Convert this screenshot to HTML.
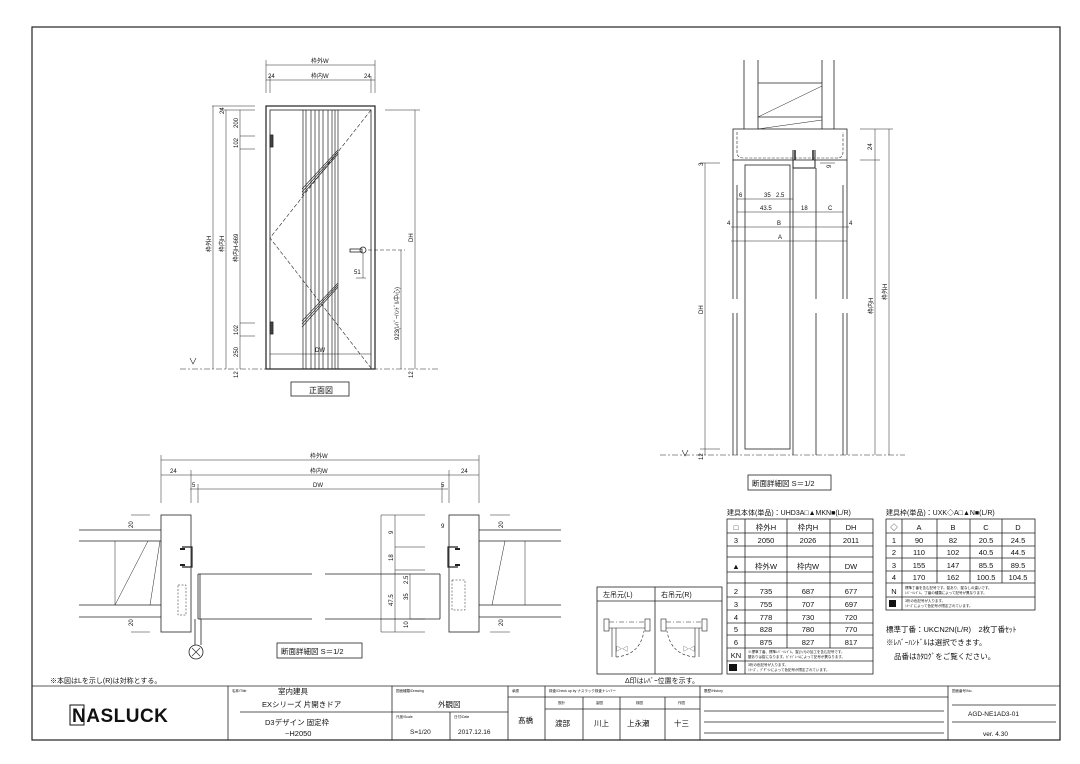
<!DOCTYPE html>
<html><head><meta charset="utf-8"><style>
html,body{margin:0;padding:0;background:#fff;}
svg{display:block;font-family:"Liberation Sans","Noto Sans CJK JP",sans-serif;}
text{fill:#111;}
</style></head><body>
<svg width="1080" height="764" viewBox="0 0 1080 764" xmlns="http://www.w3.org/2000/svg">
<rect width="1080" height="764" fill="#fff"/>
<g fill="none" stroke="#222" stroke-width="0.8">
<rect x="32" y="27" width="1028" height="713" stroke-width="1.2"/>
<line x1="32" y1="686" x2="1060" y2="686"/>
<line x1="228" y1="686" x2="228" y2="740"/><line x1="392" y1="686" x2="392" y2="740"/>
<line x1="508" y1="686" x2="508" y2="740"/><line x1="545" y1="686" x2="545" y2="740"/>
<line x1="700" y1="686" x2="700" y2="740"/><line x1="948" y1="686" x2="948" y2="740"/>
<line x1="240" y1="712" x2="392" y2="712"/><line x1="392" y1="712" x2="508" y2="712"/>
<line x1="450" y1="712" x2="450" y2="740"/>
<line x1="508" y1="697" x2="700" y2="697"/><line x1="545" y1="709" x2="700" y2="709"/>
<line x1="583" y1="697" x2="583" y2="740"/><line x1="620" y1="697" x2="620" y2="740"/><line x1="665" y1="697" x2="665" y2="740"/>
<line x1="700" y1="697" x2="948" y2="697"/>
<line x1="704" y1="711" x2="944" y2="711"/><line x1="704" y1="722" x2="944" y2="722"/><line x1="704" y1="733" x2="944" y2="733"/>
<line x1="952" y1="705" x2="1056" y2="705"/><line x1="952" y1="722" x2="1056" y2="722"/>

<rect x="266" y="106" width="109" height="263" stroke-width="1.2"/>
<rect x="270" y="110" width="101" height="259"/>
<g stroke-width="0.7">
<line x1="303" y1="110" x2="303" y2="369"/><line x1="306" y1="110" x2="306" y2="369"/>
<line x1="311" y1="110" x2="311" y2="369"/><line x1="315" y1="110" x2="315" y2="369"/>
<line x1="319" y1="110" x2="319" y2="369"/><line x1="323" y1="110" x2="323" y2="369"/>
<line x1="328" y1="110" x2="328" y2="369"/><line x1="332" y1="110" x2="332" y2="369"/>
<line x1="335" y1="110" x2="335" y2="369"/><line x1="338" y1="110" x2="338" y2="369"/>
</g>
<line x1="270" y1="354" x2="371" y2="354" stroke-width="0.6"/>
<polyline points="371,110 270,238 371,368" stroke-dasharray="4,2" stroke-width="0.6"/>
<g stroke-width="0.6">
<line x1="302" y1="195" x2="338" y2="154"/><line x1="302" y1="192" x2="338" y2="152"/><line x1="302" y1="189" x2="338" y2="150"/>
<line x1="302" y1="327" x2="338" y2="287"/><line x1="302" y1="324" x2="338" y2="285"/><line x1="302" y1="321" x2="338" y2="283"/>
</g>
<rect x="270" y="135" width="3" height="12" fill="#444"/><rect x="270" y="322" width="3" height="12" fill="#444"/>
<circle cx="363" cy="250" r="3"/><rect x="350" y="249" width="12" height="3"/>
<g stroke-width="0.5">
<line x1="266" y1="65" x2="375" y2="65"/><line x1="266" y1="80" x2="375" y2="80"/>
<line x1="266" y1="60" x2="266" y2="93"/><line x1="375" y1="60" x2="375" y2="93"/>
<line x1="270" y1="76" x2="270" y2="93"/><line x1="371" y1="76" x2="371" y2="93"/>
<line x1="212" y1="106" x2="255" y2="106"/><line x1="220" y1="110" x2="255" y2="110"/>
<line x1="213" y1="106" x2="213" y2="369"/><line x1="226" y1="110" x2="226" y2="369"/><line x1="240" y1="110" x2="240" y2="369"/>
<line x1="240" y1="136" x2="255" y2="136"/><line x1="240" y1="149" x2="255" y2="149"/>
<line x1="240" y1="323" x2="255" y2="323"/><line x1="240" y1="336" x2="255" y2="336"/>
<line x1="385" y1="110" x2="420" y2="110"/><line x1="415" y1="110" x2="415" y2="369"/>
<line x1="368" y1="250" x2="405" y2="250" stroke-dasharray="4,2"/><line x1="401" y1="250" x2="401" y2="369"/>
<line x1="363" y1="253" x2="363" y2="278"/><line x1="356" y1="278" x2="366" y2="278"/>
<line x1="180" y1="369" x2="440" y2="369" stroke-dasharray="6,2,2,2"/>
</g>
<path d="M190 358 l3 6 l3 -6" stroke-width="0.6"/>
<rect x="291" y="382" width="58" height="14"/>

<line x1="744" y1="60" x2="744" y2="129"/><line x1="758" y1="60" x2="758" y2="129"/>
<line x1="822" y1="60" x2="822" y2="129"/><line x1="834" y1="60" x2="834" y2="129"/>
<line x1="758" y1="83" x2="822" y2="83"/><line x1="758" y1="117" x2="822" y2="117"/>
<line x1="758" y1="117" x2="822" y2="86" stroke-width="0.5"/><line x1="758" y1="129" x2="822" y2="120" stroke-width="0.5"/>
<rect x="733" y="129" width="114" height="31"/>
<path d="M737 132 L737 152 Q737 158 743 158 L837 158 Q843 158 843 152 L843 132" stroke-dasharray="3,1.5" stroke-width="0.6"/>
<path d="M793 150 L793 168 L815 168 L815 150" stroke-width="1"/>
<path d="M795 150 v10 M813 150 v10" stroke-width="1.5"/>
<g>
<line x1="733" y1="160" x2="733" y2="299"/><line x1="733" y1="313" x2="733" y2="455"/>
<line x1="737" y1="185" x2="737" y2="299"/><line x1="737" y1="313" x2="737" y2="455"/>
<line x1="793" y1="168" x2="793" y2="455"/><line x1="816" y1="168" x2="816" y2="299"/><line x1="816" y1="313" x2="816" y2="455"/>
<line x1="843" y1="185" x2="843" y2="299"/><line x1="843" y1="313" x2="843" y2="455"/>
<line x1="847" y1="160" x2="847" y2="299"/><line x1="847" y1="313" x2="847" y2="455"/>
<rect x="745" y="165" width="45" height="284"/>
</g>
<g stroke-width="0.5">
<line x1="737" y1="199" x2="793" y2="199"/><line x1="737" y1="212" x2="843" y2="212"/>
<line x1="731" y1="227" x2="849" y2="227"/><line x1="731" y1="241" x2="847" y2="241"/>
<line x1="700" y1="163" x2="720" y2="163"/><line x1="700" y1="449" x2="720" y2="449"/>
<line x1="705" y1="163" x2="705" y2="455"/>
<line x1="860" y1="129" x2="893" y2="129"/><line x1="860" y1="160" x2="880" y2="160"/>
<line x1="875" y1="129" x2="875" y2="455"/><line x1="889" y1="129" x2="889" y2="455"/>
<line x1="660" y1="455" x2="905" y2="455" stroke-dasharray="6,2,2,2"/>
<line x1="820" y1="163" x2="835" y2="163"/>
</g>
<path d="M682 450 l3 6 l3 -6" stroke-width="0.6"/>
<rect x="748" y="475" width="83" height="15"/>

<g stroke-width="0.5">
<line x1="161" y1="460" x2="479" y2="460"/><line x1="161" y1="475" x2="479" y2="475"/>
<line x1="190" y1="489" x2="448" y2="489"/>
<line x1="161" y1="455" x2="161" y2="503"/><line x1="479" y1="455" x2="479" y2="503"/>
<line x1="191" y1="470" x2="191" y2="503"/><line x1="449" y1="470" x2="449" y2="503"/>
<line x1="198" y1="484" x2="198" y2="503"/><line x1="442" y1="484" x2="442" y2="503"/>
<line x1="131" y1="515" x2="150" y2="515"/><line x1="131" y1="632" x2="150" y2="632"/>
<line x1="490" y1="515" x2="510" y2="515"/><line x1="490" y1="632" x2="510" y2="632"/>
<line x1="381" y1="515" x2="381" y2="632"/><line x1="395" y1="515" x2="395" y2="632"/>
<line x1="381" y1="515" x2="425" y2="515"/><line x1="381" y1="632" x2="425" y2="632"/>
<line x1="395" y1="547" x2="425" y2="547"/><line x1="395" y1="570" x2="425" y2="570"/>
<line x1="410" y1="574" x2="410" y2="619"/><line x1="410" y1="619" x2="425" y2="619"/>
</g>
<rect x="161" y="515" width="30" height="117"/><rect x="449" y="515" width="30" height="117"/>
<g>
<line x1="79" y1="530" x2="161" y2="530"/><line x1="79" y1="541" x2="161" y2="541"/>
<line x1="79" y1="605" x2="161" y2="605"/><line x1="79" y1="617" x2="161" y2="617"/>
<line x1="479" y1="530" x2="561" y2="530"/><line x1="479" y1="541" x2="561" y2="541"/>
<line x1="479" y1="605" x2="561" y2="605"/><line x1="479" y1="617" x2="561" y2="617"/>
<line x1="115" y1="541" x2="115" y2="605" stroke-width="0.5"/><line x1="115" y1="605" x2="148" y2="541" stroke-width="0.5"/>
<line x1="525" y1="541" x2="525" y2="605" stroke-width="0.5"/><line x1="492" y1="605" x2="505" y2="541" stroke-width="0.5"/>
<line x1="160" y1="541" x2="150" y2="605" stroke-width="0.5"/>
<line x1="198" y1="574" x2="312" y2="574"/><line x1="198" y1="619" x2="312" y2="619"/>
<line x1="325" y1="574" x2="440" y2="574"/><line x1="325" y1="619" x2="440" y2="619"/>
<line x1="198" y1="574" x2="198" y2="619"/><line x1="200" y1="574" x2="200" y2="619"/>
<line x1="440" y1="574" x2="440" y2="619"/>
</g>
<path d="M182 547 h10 v20 h-10" stroke-width="1.2"/><path d="M180 549 h5 M180 565 h5" stroke-width="2"/>
<path d="M458 547 h-10 v20 h10" stroke-width="1.2"/><path d="M460 549 h-5 M460 565 h-5" stroke-width="2"/>
<rect x="178" y="585" width="8" height="30" stroke-dasharray="2,1.5" stroke-width="0.5"/>
<rect x="452" y="580" width="13" height="30" stroke-dasharray="2,1.5" stroke-width="0.5"/>
<line x1="195" y1="619" x2="195" y2="645"/><line x1="201" y1="619" x2="201" y2="645"/>
<circle cx="196" cy="652" r="7"/><path d="M192 648 l8 8 M200 648 l-8 8" stroke-width="0.6"/>
<rect x="277" y="643" width="85" height="15"/>

<rect x="727" y="519" width="146" height="155"/>
<line x1="745" y1="519" x2="745" y2="674"/>
<line x1="787" y1="519" x2="787" y2="648"/><line x1="830" y1="519" x2="830" y2="648"/>
<line x1="727" y1="533" x2="873" y2="533"/><line x1="727" y1="546" x2="873" y2="546"/>
<line x1="727" y1="557" x2="873" y2="557"/><line x1="727" y1="572" x2="873" y2="572"/>
<line x1="727" y1="583" x2="873" y2="583"/><line x1="727" y1="597" x2="873" y2="597"/>
<line x1="727" y1="610" x2="873" y2="610"/><line x1="727" y1="623" x2="873" y2="623"/>
<line x1="727" y1="635" x2="873" y2="635"/><line x1="727" y1="648" x2="873" y2="648"/>
<line x1="727" y1="661" x2="873" y2="661"/>
<rect x="886" y="519" width="149" height="91"/>
<line x1="902" y1="519" x2="902" y2="610"/>
<line x1="937" y1="519" x2="937" y2="583"/><line x1="970" y1="519" x2="970" y2="583"/><line x1="1002" y1="519" x2="1002" y2="583"/>
<line x1="886" y1="533" x2="1035" y2="533"/><line x1="886" y1="546" x2="1035" y2="546"/>
<line x1="886" y1="558" x2="1035" y2="558"/><line x1="886" y1="571" x2="1035" y2="571"/>
<line x1="886" y1="583" x2="1035" y2="583"/><line x1="886" y1="597" x2="1035" y2="597"/>

<rect x="597" y="587" width="125" height="87"/>
<line x1="597" y1="601" x2="722" y2="601"/><line x1="655" y1="587" x2="655" y2="674"/>
<g stroke-width="0.6">
<rect x="604" y="619" width="5" height="12"/><rect x="645" y="619" width="5" height="12"/>
<line x1="609" y1="622" x2="645" y2="622" stroke-dasharray="5,2,1,2"/><line x1="609" y1="628" x2="645" y2="628"/>
<line x1="612" y1="628" x2="612" y2="657"/><line x1="616" y1="628" x2="616" y2="657"/>
<path d="M616 657 Q640 655 644 631" stroke-dasharray="3,2"/>
<rect x="661" y="619" width="5" height="12"/><rect x="702" y="619" width="5" height="12"/>
<line x1="666" y1="622" x2="702" y2="622" stroke-dasharray="5,2,1,2"/><line x1="666" y1="628" x2="702" y2="628"/>
<line x1="699" y1="628" x2="699" y2="657"/><line x1="695" y1="628" x2="695" y2="657"/>
<path d="M695 657 Q671 655 667 631" stroke-dasharray="3,2"/>
</g>
</g>
<rect x="729" y="664" width="8" height="7" fill="#111"/>
<rect x="889" y="600" width="7" height="7" fill="#111"/>

<g font-size="6">
<text x="311" y="63">枠外W</text><text x="311" y="78">枠内W</text>
<text x="268" y="78">24</text><text x="364" y="78">24</text>
</g>
<g font-size="6">
<text transform="translate(211,252) rotate(-90)">枠外H</text>
<text transform="translate(224,252) rotate(-90)">枠内H</text>
<text transform="translate(238,262) rotate(-90)">枠内H-669</text>
<text transform="translate(238,128) rotate(-90)">200</text>
<text transform="translate(238,148) rotate(-90)">102</text>
<text transform="translate(238,335) rotate(-90)">102</text>
<text transform="translate(238,357) rotate(-90)">250</text>
<text transform="translate(238,378) rotate(-90)">12</text>
<text transform="translate(224,114) rotate(-90)">24</text>
<text transform="translate(413,242) rotate(-90)">DH</text>
<text transform="translate(399,340) rotate(-90)">923(ﾚﾊﾞｰﾊﾝﾄﾞﾙ中心)</text>
<text transform="translate(413,378) rotate(-90)">12</text>
<text x="354" y="274">51</text><text x="315" y="352">DW</text>
</g>
<text x="309" y="393" font-size="8">正面図</text>
<g font-size="6">
<text transform="translate(703,314) rotate(-90)">DH</text>
<text transform="translate(873,314) rotate(-90)">枠内H</text>
<text transform="translate(887,300) rotate(-90)">枠外H</text>
<text transform="translate(872,150) rotate(-90)">24</text>
<text transform="translate(703,166) rotate(-90)">3</text>
<text transform="translate(703,460) rotate(-90)">12</text>
<text transform="translate(831,168) rotate(-90)">9</text>
<text x="739" y="197">6</text><text x="764" y="197">35</text><text x="776" y="197">2.5</text>
<text x="760" y="210">43.5</text><text x="801" y="210">18</text><text x="828" y="210">C</text>
<text x="727" y="225">4</text><text x="777" y="225">B</text><text x="849" y="225">4</text>
<text x="778" y="239">A</text>
</g>
<text x="752" y="486" font-size="7.5">断面詳細図 S＝1/2</text>
<g font-size="6">
<text x="310" y="458">枠外W</text><text x="310" y="473">枠内W</text><text x="313" y="487">DW</text>
<text x="170" y="473">24</text><text x="461" y="473">24</text>
<text x="192" y="487">5</text><text x="441" y="487">5</text>
<text transform="translate(133,528) rotate(-90)">20</text><text transform="translate(133,626) rotate(-90)">20</text>
<text transform="translate(503,528) rotate(-90)">20</text><text transform="translate(503,626) rotate(-90)">20</text>
<text transform="translate(393,534) rotate(-90)">9</text><text transform="translate(393,561) rotate(-90)">18</text>
<text transform="translate(393,606) rotate(-90)">47.5</text>
<text transform="translate(408,584) rotate(-90)">2.5</text><text transform="translate(408,600) rotate(-90)">35</text>
<text transform="translate(408,628) rotate(-90)">10</text>
<text x="441" y="528">9</text>
</g>
<text x="281" y="654" font-size="7.5">断面詳細図 S＝1/2</text>
<text x="50" y="683" font-size="7">※本図はLを示し(R)は対称とする。</text>
<g font-size="7">
<text x="727" y="515">建具本体(単品)：UHD3A□▲MKN■(L/R)</text>
<text x="886" y="515">建具枠(単品)：UXK◇A□▲N■(L/R)</text>
</g>
<g font-size="7.5" text-anchor="middle">
<text x="736" y="530">□</text><text x="766" y="530">枠外H</text><text x="808" y="530">枠内H</text><text x="851" y="530">DH</text>
<text x="736" y="543">3</text><text x="766" y="543">2050</text><text x="808" y="543">2026</text><text x="851" y="543">2011</text>
<text x="736" y="569">▲</text><text x="766" y="569">枠外W</text><text x="808" y="569">枠内W</text><text x="851" y="569">DW</text>
<text x="736" y="594">2</text><text x="766" y="594">735</text><text x="808" y="594">687</text><text x="851" y="594">677</text>
<text x="736" y="607">3</text><text x="766" y="607">755</text><text x="808" y="607">707</text><text x="851" y="607">697</text>
<text x="736" y="620">4</text><text x="766" y="620">778</text><text x="808" y="620">730</text><text x="851" y="620">720</text>
<text x="736" y="632">5</text><text x="766" y="632">828</text><text x="808" y="632">780</text><text x="851" y="632">770</text>
<text x="736" y="645">6</text><text x="766" y="645">875</text><text x="808" y="645">827</text><text x="851" y="645">817</text>
<text x="736" y="658">KN</text>
<text x="894" y="530">◇</text><text x="919" y="530">A</text><text x="953" y="530">B</text><text x="986" y="530">C</text><text x="1018" y="530">D</text>
<text x="894" y="543">1</text><text x="919" y="543">90</text><text x="953" y="543">82</text><text x="986" y="543">20.5</text><text x="1018" y="543">24.5</text>
<text x="894" y="555">2</text><text x="919" y="555">110</text><text x="953" y="555">102</text><text x="986" y="555">40.5</text><text x="1018" y="555">44.5</text>
<text x="894" y="568">3</text><text x="919" y="568">155</text><text x="953" y="568">147</text><text x="986" y="568">85.5</text><text x="1018" y="568">89.5</text>
<text x="894" y="580">4</text><text x="919" y="580">170</text><text x="953" y="580">162</text><text x="986" y="580">100.5</text><text x="1018" y="580">104.5</text>
<text x="894" y="594">N</text>
</g>
<g font-size="3.5">
<text x="748" y="653">※標準丁番、標準ﾚﾊﾞｰﾊﾝﾄﾞﾙ、錠(ﾗｯﾁ)の加工を含む記号です。</text>
<text x="748" y="658">鍵ありは錠になります。ｶﾞｲﾄﾞﾚｰﾙによって記号が異なります。</text>
<text x="748" y="666">3桁の色記号が入ります。</text>
<text x="748" y="671">ｼﾘｰｽﾞ、ﾃﾞｻﾞｲﾝによって色記号が限定されています。</text>
<text x="905" y="589">標準丁番を含む記号です。錠あり、錠なしの違いです。</text>
<text x="905" y="594">ﾚﾊﾞｰﾊﾝﾄﾞﾙ、丁番の種類によって記号が異なります。</text>
<text x="905" y="602">3桁の色記号が入ります。</text>
<text x="905" y="607">ｼﾘｰｽﾞによって色記号が限定されています。</text>
</g>
<g font-size="7.5">
<text x="886" y="632">標準丁番：UKCN2N(L/R)　2枚丁番ｾｯﾄ</text>
<text x="886" y="645">※ﾚﾊﾞｰﾊﾝﾄﾞﾙは選択できます。</text>
<text x="894" y="659">品番はｶﾀﾛｸﾞをご覧ください。</text>
</g>
<g font-size="7">
<text x="603" y="597">左吊元(L)</text><text x="661" y="597">右吊元(R)</text>
<text x="625" y="683">Δ印はﾚﾊﾞｰ位置を示す。</text>
</g>
<g font-size="6" fill="#111">
<text x="616" y="651">▷◁</text><text x="683" y="651">▷◁</text>
</g>
<text x="72" y="722" font-size="19" font-weight="bold" letter-spacing="0.5">NASLUCK</text>
<rect x="70" y="705" width="14" height="20" fill="none" stroke="#111" stroke-width="1"/>
<g font-size="3.5">
<text x="232" y="692">名称/Title</text><text x="396" y="692">図面種類/Drawing</text>
<text x="396" y="718">尺度/Scale</text><text x="454" y="718">日付/Date</text>
<text x="512" y="692">承認</text><text x="549" y="692">検査/Check up by ナスラック検査ナンバー</text>
<text x="704" y="692">履歴/History</text><text x="952" y="692">図面番号/No.</text>
<text x="558" y="704">設計</text><text x="596" y="704">製図</text><text x="636" y="704">検図</text><text x="678" y="704">作図</text>
</g>
<g font-size="7.5">
<text x="278" y="694">室内建具</text>
<text x="262" y="707">EXシリーズ 片開きドア</text>
<text x="265" y="725">D3デザイン 固定枠</text>
<text x="285" y="736">~H2050</text>
<text x="438" y="707">外観図</text>
<text x="410" y="734" font-size="6.5">S=1/20</text>
<text x="458" y="734" font-size="6.5">2017.12.16</text>
<text x="518" y="723">髙橋</text>
<text x="555" y="726">渡部</text><text x="594" y="726">川上</text><text x="627" y="726">上永瀬</text><text x="674" y="726">十三</text>
<text x="968" y="716" font-size="6.5">AGD-NE1AD3-01</text>
<text x="983" y="736" font-size="6.5">ver. 4.30</text>
</g>
</svg>
</body></html>
